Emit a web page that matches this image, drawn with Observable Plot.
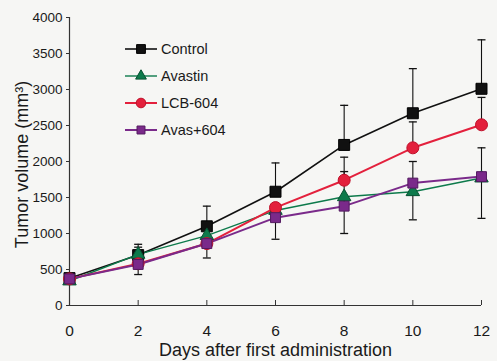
<!DOCTYPE html>
<html><head><meta charset="utf-8">
<script src="https://cdn.jsdelivr.net/npm/d3@7"></script>
<script src="https://cdn.jsdelivr.net/npm/@observablehq/plot@0.6"></script>
<style>
body{margin:0;background:#f6f6f4;}
#chart svg{display:block;}
</style>
</head><body><div id="chart"></div>
<script>
const days = [0, 2, 4, 6, 8, 10, 12];
const seriesNames = ["Control", "Avastin", "LCB-604", "Avas+604"];
const controlMean = [380, 700, 1100, 1580, 2230, 2670, 3010];
const avastinMean = [340, 710, 970, 1320, 1510, 1580, 1770];
const lcbMean = [370, 580, 860, 1360, 1740, 2190, 2510];
const combMean = [370, 570, 860, 1220, 1380, 1700, 1790];
const controlErrUp = [50, 150, 280, 400, 550, 620, 680];
const controlErrDown = [0, 0, 0, 0, 0, 0, 0];
const avastinErrUp = [0, 100, 0, 0, 0, 0, 0];
const avastinErrDown = [0, 0, 0, 400, 0, 390, 560];
const lcbErrUp = [0, 0, 0, 0, 320, 360, 380];
const lcbErrDown = [0, 0, 0, 0, 0, 0, 0];
const combErrUp = [0, 0, 0, 0, 480, 300, 400];
const combErrDown = [0, 140, 200, 0, 380, 0, 0];
const yTicks = [0, 500, 1000, 1500, 2000, 2500, 3000, 3500, 4000];
const xTicks = [0, 2, 4, 6, 8, 10, 12];
const xTitle = "Days after first administration";
const yTitle = "Tumor volume (mm\u00B3)";

const colors = ["#111111", "#0d7a4b", "#e3203c", "#7a2a8a"];
const strokes = ["#000000", "#075232", "#c0102a", "#531a60"];
const symbols = ["square", "triangle", "circle", "square"];
const radii = [6.2, 5.0, 6.0, 5.6];
const lineWidths = [1.6, 1.4, 2.0, 2.0];

const means = [controlMean, avastinMean, lcbMean, combMean];
const ups = [controlErrUp, avastinErrUp, lcbErrUp, combErrUp];
const downs = [controlErrDown, avastinErrDown, lcbErrDown, combErrDown];

const rows = [];
const segs = [];
const caps = [];
seriesNames.forEach((s, i) => {
  days.forEach((d, j) => {
    const v = means[i][j];
    rows.push({series: s, day: d, value: v});
    if (ups[i][j] > 0) { segs.push({day: d, y1: v, y2: v + ups[i][j]}); caps.push({day: d, y: v + ups[i][j]}); }
    if (downs[i][j] > 0) { segs.push({day: d, y1: v - downs[i][j], y2: v}); caps.push({day: d, y: v - downs[i][j]}); }
  });
});

const capSymbol = {draw(ctx, size) { const w = Math.sqrt(size / Math.PI); ctx.moveTo(-w, 0); ctx.lineTo(w, 0); }};
const FONT = "Liberation Sans, Arial, Helvetica, sans-serif";

function legend(index, scales, values, dim) {
  const g = d3.create("svg:g").attr("font-family", FONT);
  seriesNames.forEach((s, i) => {
    const y = dim.marginTop + 32 + i * 27;
    const x0 = dim.marginLeft + 56;
    g.append("line").attr("x1", x0).attr("x2", x0 + 32).attr("y1", y).attr("y2", y)
      .attr("stroke", colors[i]).attr("stroke-width", lineWidths[i]);
    const sym = {square: d3.symbolSquare, triangle: d3.symbolTriangle, circle: d3.symbolCircle}[symbols[i]];
    const r = radii[i] * 0.8;
    g.append("path").attr("d", d3.symbol(sym, Math.PI * r * r)())
      .attr("transform", `translate(${x0 + 16},${y})`)
      .attr("fill", colors[i]).attr("stroke", strokes[i]);
    g.append("text").attr("x", x0 + 36).attr("y", y).attr("dy", "0.35em")
      .attr("text-anchor", "start")
      .attr("font-size", 14.5).attr("fill", "#1a1a1a").text(s);
  });
  return g.node();
}

const marks = [
  Plot.ruleY([0], {stroke: "#333", strokeWidth: 1.2}),
  Plot.ruleX([0], {stroke: "#333", strokeWidth: 1.2}),
  Plot.axisY(yTicks, {tickSize: 3, tickPadding: 4, tickFormat: "d", fontSize: 13.5, fill: "#1a1a1a", stroke: "#333", label: null, fontFamily: FONT}),
  Plot.axisX(xTicks, {tickSize: -5, tickPadding: 24, tickFormat: "d", fontSize: 15.5, fill: "#1a1a1a", stroke: "#333", label: null, fontFamily: FONT}),
  Plot.text([xTitle], {frameAnchor: "bottom", textAnchor: "middle", dy: 50, fontSize: 18, fill: "#1a1a1a", fontFamily: FONT}),
  Plot.text([yTitle], {frameAnchor: "left", textAnchor: "middle", dx: -47, dy: 3, rotate: -90, fontSize: 18, fill: "#1a1a1a", fontFamily: FONT}),
  Plot.ruleX(segs, {x: "day", y1: "y1", y2: "y2", stroke: "#111", strokeWidth: 1.1}),
  Plot.dot(caps, {x: "day", y: "y", symbol: capSymbol, r: 4, stroke: "#111", strokeWidth: 1.3, fill: "none"})
];
seriesNames.forEach((s, i) => {
  marks.push(Plot.line(rows.filter(r => r.series === s), {x: "day", y: "value", stroke: colors[i], strokeWidth: lineWidths[i]}));
});
seriesNames.forEach((s, i) => {
  marks.push(Plot.dot(rows.filter(r => r.series === s), {x: "day", y: "value", symbol: symbols[i], r: radii[i], fill: colors[i], stroke: strokes[i], strokeWidth: 1}));
});
marks.push(legend);

const chart = Plot.plot({
  width: 497,
  height: 361,
  marginLeft: 69,
  marginRight: 16,
  marginTop: 17,
  marginBottom: 56,
  style: {background: "transparent", fontFamily: FONT},
  x: {domain: [0, 12], axis: null},
  y: {domain: [0, 4000], axis: null},
  marks
});
document.getElementById("chart").appendChild(chart);
</script>
</body></html>
